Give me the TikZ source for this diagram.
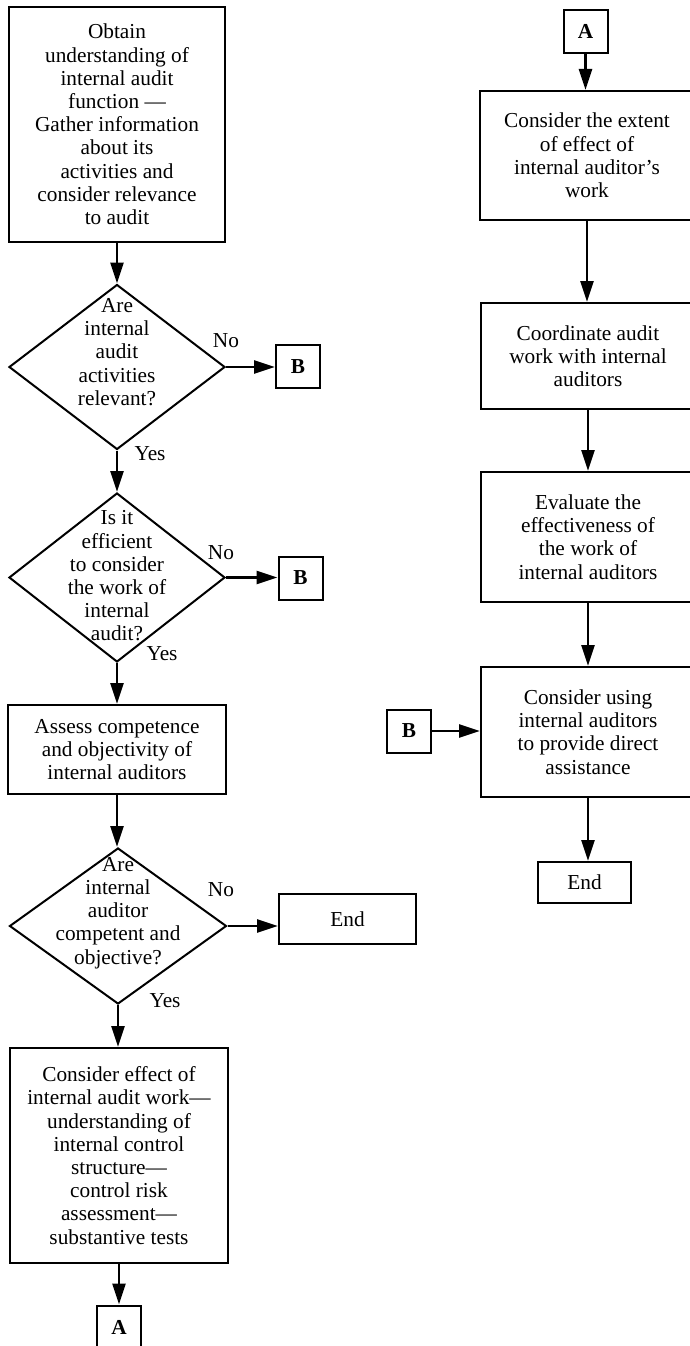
\documentclass[tikz,border=0pt]{standalone}
\usepackage{fontspec}
\setmainfont{Liberation Serif}
\usetikzlibrary{shapes.geometric,arrows.meta}
\newcommand{\flowfont}{\fontsize{21.3}{23.2}\selectfont}
\begin{document}
\begin{tikzpicture}[x=1pt,y=-1pt,
  box/.style={draw, line width=2pt, align=center, inner sep=0pt, font=\flowfont},
  conn/.style={draw, line width=2pt, align=center, inner sep=0pt, font=\flowfont\bfseries, minimum width=44pt, minimum height=43pt},
  dia/.style={draw, diamond, line width=2pt, inner sep=0pt},
  dtext/.style={align=center, inner sep=0pt, font=\flowfont},
  lab/.style={inner sep=0pt, font=\flowfont},
  arr/.style={line width=2.7pt, -{Triangle[length=21pt,width=13pt]}}
]
\useasboundingbox (0,0) rectangle (690,1346);

% left column
\node[box, minimum width=216pt, minimum height=235pt] (b1) at (117,124.5)
  {Obtain\\understanding of\\internal audit\\function ---\\Gather information\\about its\\activities and\\consider relevance\\to audit};
\node[dia, minimum width=216pt, minimum height=165pt] (d1) at (117,367) {};
\node[dtext] (d1t) at (117,352) {Are\\internal\\audit\\activities\\relevant?};
\node[conn] (B1) at (298,366.5) {B};

\node[dia, minimum width=216pt, minimum height=169pt] (d2) at (117,577.5) {};
\node[dtext] (d2t) at (117,576) {Is it\\efficient\\to consider\\the work of\\internal\\audit?};
\node[conn] (B2) at (300.5,578) {B};

\node[box, minimum width=218pt, minimum height=89pt] (b3) at (117,749.5)
  {Assess competence\\and objectivity of\\internal auditors};

\node[dia, minimum width=217pt, minimum height=156pt] (d3) at (118,926) {};
\node[dtext] (d3t) at (118,913) {Are\\internal\\auditor\\competent and\\objective?};
\node[box, minimum width=137pt, minimum height=50pt] (e1) at (347.5,919) {End};

\node[box, minimum width=218pt, minimum height=215pt] (b4) at (119,1155.5)
  {Consider effect of\\internal audit work---\\understanding of\\internal control\\structure---\\control risk\\assessment---\\substantive tests};
\node[conn] (A1) at (119,1327) {A};

% labels
\node[lab] (n1) at (226,341) {No};
\node[lab] (y1) at (150,454) {Yes};
\node[lab] (n2) at (221,553) {No};
\node[lab] (y2) at (162,654) {Yes};
\node[lab] (n3) at (221,890) {No};
\node[lab] (y3) at (165,1001) {Yes};

% right column
\node[conn] (A2) at (585.5,31.5) {A};
\node[box, minimum width=214pt, minimum height=129pt] (r1) at (587,155.5)
  {Consider the extent\\of effect of\\internal auditor's\\work};
\node[box, minimum width=214pt, minimum height=106pt] (r2) at (588,356)
  {Coordinate audit\\work with internal\\auditors};
\node[box, minimum width=214pt, minimum height=130pt] (r3) at (588,537)
  {Evaluate the\\effectiveness of\\the work of\\internal auditors};
\node[box, minimum width=214pt, minimum height=130pt] (r4) at (588,732)
  {Consider using\\internal auditors\\to provide direct\\assistance};
\node[conn] (B3) at (409,731) {B};
\node[box, minimum width=93pt, minimum height=41pt] (e2) at (584.5,882.5) {End};

% connectors
\draw[arr] (b1.south) -- (d1.north);
\draw[arr] (d1.east) -- (d1.east -| B1.west);
\draw[arr] (d1.south) -- (d2.north);
\draw[arr] (d2.east) -- (d2.east -| B2.west);
\draw[arr] (d2.south) -- (d2.south |- b3.north);
\draw[arr] (b3.south) -- (b3.south |- d3.north);
\draw[arr] (d3.east) -- (d3.east -| e1.west);
\draw[arr] (d3.south) -- (d3.south |- b4.north);
\draw[arr] (b4.south) -- (b4.south |- A1.north);

\draw[arr] (A2.south) -- (A2.south |- r1.north);
\draw[arr] (r1.south) -- (r1.south |- r2.north);
\draw[arr] (r2.south) -- (r2.south |- r3.north);
\draw[arr] (r3.south) -- (r3.south |- r4.north);
\draw[arr] (B3.east) -- (B3.east -| r4.west);
\draw[arr] (r4.south) -- (r4.south |- e2.north);
\end{tikzpicture}
\end{document}
